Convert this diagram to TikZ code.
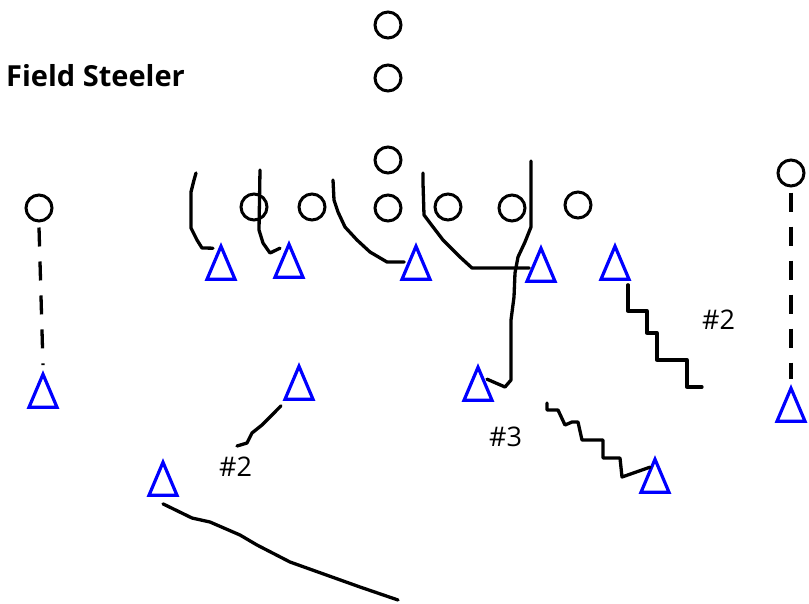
\documentclass[tikz,border=0pt]{standalone}
\usepackage{fontspec}
\setsansfont{Open Sans}
\usetikzlibrary{shapes.geometric}

\tikzset{
  off/.style={circle,draw,line width=3pt,minimum size=26pt,inner sep=0pt},
  def/.style={isosceles triangle,shape border rotate=90,isosceles triangle apex angle=46,
    isosceles triangle stretches,draw=blue,line width=3.2pt,minimum width=28pt,minimum height=33pt,inner sep=0pt},
  route/.style={line width=3.3pt,line join=round,line cap=round},
  motion/.style={line width=3.3pt,dash pattern=on 19pt off 15pt},
  tag/.style={font=\sffamily\fontsize{27}{30}\selectfont,anchor=base west,inner sep=0pt}
}

\begin{document}
\begin{tikzpicture}[x=1pt,y=-1pt]
  \useasboundingbox (0,0) rectangle (809,603);

  \node[font=\sffamily\bfseries\fontsize{29}{32}\selectfont,anchor=base west,inner sep=0pt] (title) at (6,86) {Field Steeler};

  % offense
  \node[off] (o1) at (388,25) {};
  \node[off] (o2) at (388,78) {};
  \node[off] (o3) at (388,160) {};
  \node[off] (o4) at (388,208) {};
  \node[off] (o5) at (39,208) {};
  \node[off] (o6) at (254,207) {};
  \node[off] (o7) at (312,207) {};
  \node[off] (o8) at (448,207) {};
  \node[off] (o9) at (512,208) {};
  \node[off] (o10) at (578,205) {};
  \node[off] (o11) at (791,173) {};

  % defense
  \node[def] (d1) at (221,270) {};
  \node[def] (d2) at (289,268) {};
  \node[def] (d3) at (416,270) {};
  \node[def] (d4) at (541,272) {};
  \node[def] (d5) at (615,270) {};
  \node[def] (d6) at (478,391) {};
  \node[def] (d7) at (299,390) {};
  \node[def] (d8) at (43,398) {};
  \node[def] (d9) at (163,486) {};
  \node[def] (d10) at (655,483) {};
  \node[def] (d11) at (791,412) {};

  % motion of the wide outs
  \draw[motion] ([yshift=-5pt]o5.south) -- ([yshift=5pt]d8.apex);
  \draw[motion] ([yshift=-5pt]o11.south) -- ([yshift=5pt]d11.apex);

  % blitz paths
  \draw[route] ([shift={(-8,6)}]d1.apex) -- (202,248) -- (197,240) -- (191,228) -- (191,192) -- (194,180) -- (196,173);
  \draw[route] ([shift={(-9,8)}]d2.apex) -- (270,253) -- (263,243) -- (259,230) -- (260,170);
  \draw[route] (d3.west |- 400,262) -- (387,262) -- (370,252) -- (357,240) -- (345,227) -- (338,212) -- (334,200) -- (333,180);
  \draw[route] (d4.west |- 472,268) -- (472,268) -- (460,257) -- (443,240) -- (430,223) -- (424,215) -- (423,183) -- (423,173);
  \draw[route] ([shift={(9,16)}]d6.apex) -- (505,387) -- (511,380) -- (511,320) -- (514,297) -- (515,273) -- (518,257) -- (525,242) -- (531,227) -- (531,161);

  % zone drops
  \draw[route] ([shift={(13,4)}]d5.south) -- (628,311) -- (647,311) -- (647,333) -- (657,333) -- (657,360) -- (687,360) -- (687,387) -- (702,387);
  \draw[route] ([shift={(-5,12)}]d10.apex) -- (622,477) -- (620,458) -- (603,458) -- (603,440) -- (582,440) -- (578,422) -- (572,422) -- (565,425) -- (558,410) -- (547,410) -- (547,403);
  \draw[route] ([shift={(-18,5)}]d7.south) -- (262,425) -- (252,433) -- (247,443) -- (237,446);
  \draw[route] ([shift={(0,7)}]d9.south) -- (192,518) -- (210,522) -- (240,535) -- (257,545) -- (290,562) -- (360,587) -- (398,600);

  \node[tag] (t1) at (702,329) {\#2};
  \node[tag] (t2) at (219,476) {\#2};
  \node[tag] (t3) at (489,446) {\#3};
\end{tikzpicture}
\end{document}
